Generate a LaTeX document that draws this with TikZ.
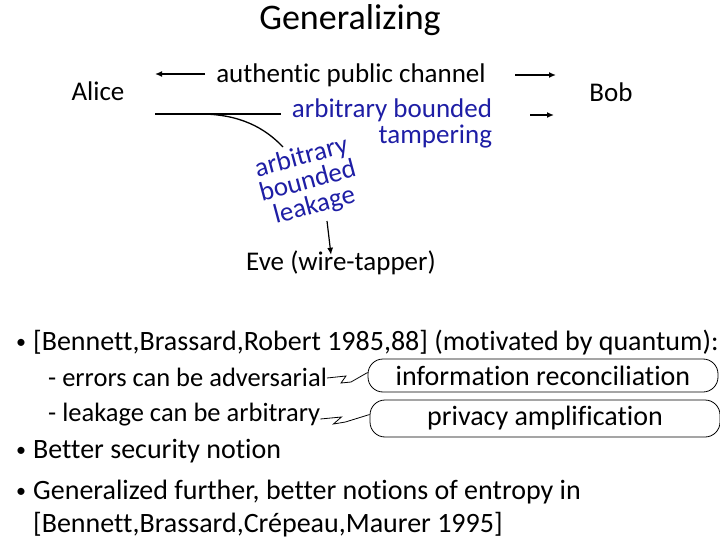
\documentclass[tikz,border=0pt]{standalone}
\usepackage{fontspec}
\setmainfont[Ligatures=NoCommon]{Carlito}
\usepackage{xcolor}
\usepackage{tikz}
\usetikzlibrary{positioning,calc}
\usetikzlibrary{arrows.meta}
\definecolor{tblue}{RGB}{30,30,165}
\tikzset{
  arr/.style={-{Latex[length=7pt,width=6pt]}, line width=1.5pt},
  bigtxt/.style={font=\fontsize{27}{25}\selectfont, inner sep=0pt},
  bodytxt/.style={font=\fontsize{28}{30}\selectfont, inner sep=0pt, anchor=base west},
  subtxt/.style={bodytxt, font=\fontsize{26.5}{30}\selectfont},
  dot/.style={font=\fontsize{20}{24}\selectfont, inner sep=0pt, anchor=base west},
  callbox/.style={draw, line width=0.8pt, rounded corners=15pt, minimum width=350pt, inner sep=0pt,
    font=\fontsize{28}{30}\selectfont}
}
\begin{document}
\begin{tikzpicture}[x=1pt,y=1pt]
  \useasboundingbox (0,0) rectangle (720,-540);
  \node[inner sep=0pt, font=\fontsize{36}{40}\selectfont] (title) at (350,-20) {Generalizing};
  % the channel
  \node[bigtxt] (alice) at (98,-91) {Alice};
  \node[bigtxt] (bob) at (611,-92) {Bob};
  \node[bigtxt] (auth) at (351,-75) {authentic public channel};
  \coordinate (aL0) at (205,-74);
  \coordinate (aL) at (155,-74);
  \coordinate (aR0) at (515,-75);
  \coordinate (aR) at (556,-75);
  \draw[arr] (aL0) -- (aL);
  \draw[arr] (aR0) -- (aR);
  \node[bigtxt, text=tblue, align=right, font=\fontsize{27}{26}\selectfont] (tamp) at (392,-123) {arbitrary bounded\\tampering};
  \coordinate (tL) at (155,-114);
  \coordinate (tM) at (281,-114);
  \coordinate (tR0) at (530,-115);
  \coordinate (tR) at (554,-115);
  \draw[line width=1.5pt] (tL) -- (tM);
  \draw[arr] (tR0) -- (tR);
  \coordinate (lk0) at (200,-114);
  \coordinate (lk1) at (283,-147);
  \draw[line width=1.3pt] (lk0) .. controls (240,-114) and (265,-128) .. (lk1);
  \node[bigtxt, text=tblue, align=center, rotate=15] (leak) at (308,-182) {arbitrary\\bounded\\leakage};
  \node[bigtxt] (eve) at (341,-263) {Eve (wire-tapper)};
  \coordinate (ev0) at (327,-221);
  \draw[arr, line width=1.2pt] (ev0) -- ([xshift=-10pt,yshift=-4pt]eve.north);
  % the bullets
  \node[dot] (d1) at (16,-348) {\textbullet};
  \node[bodytxt] (b1) at (33,-350) {[Bennett,Brassard,Robert 1985,88] (motivated by quantum):};
  \node[subtxt] (b2) at (48,-386) {- errors can be adversarial};
  \node[subtxt] (b3) at (48,-421) {- leakage can be arbitrary};
  \node[dot] (d4) at (16,-456) {\textbullet};
  \node[bodytxt] (b4) at (33,-458) {Better security notion};
  \node[dot] (d5) at (16,-497) {\textbullet};
  \node[bodytxt] (b5) at (33,-499) {Generalized further, better notions of entropy in};
  \node[bodytxt] (b6) at (33,-532) {[Bennett,Brassard,Cr\'epeau,Maurer 1995]};
  % callouts
  \node[callbox, minimum height=33pt] (recon) at (543,-375.5) {information reconciliation};
  \node[callbox, minimum height=37pt] (priv) at (545,-418.5) {privacy amplification};
  \draw[line width=0.8pt] ([yshift=8pt]b2.base east) -- ++(19,2) -- ++(-5,-7) -- ++(10,1) -- ([yshift=3pt]recon.west);
  \draw[line width=0.8pt] ([yshift=2pt]b3.base east) -- ++(21,2) -- ++(-8,-7) -- ++(12,2) -- ([yshift=4pt]priv.west);
\end{tikzpicture}
\end{document}
